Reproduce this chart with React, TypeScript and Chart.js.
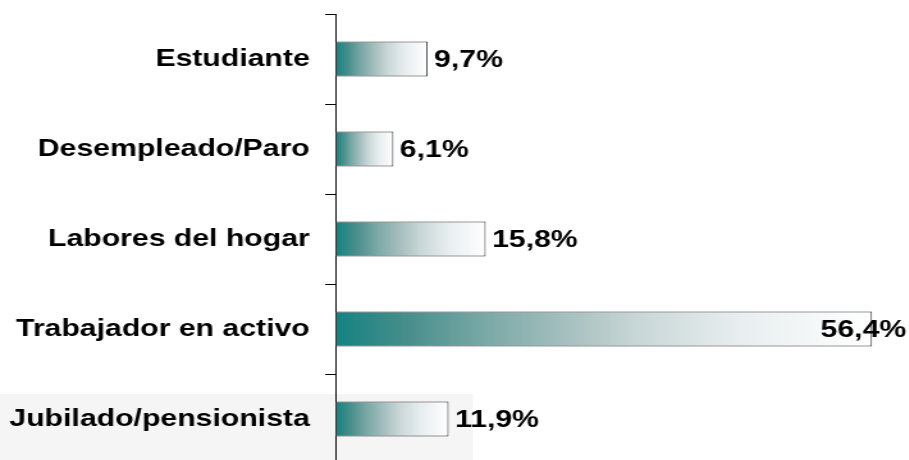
import React, { useEffect, useRef } from "react";
import { Chart, registerables } from "chart.js";

Chart.register(...registerables);

const categories = [
  "Estudiante",
  "Desempleado/Paro",
  "Labores del hogar",
  "Trabajador en activo",
  "Jubilado/pensionista",
];
const values = [9.7, 6.1, 15.8, 56.4, 11.9];
const valueLabels = ["9,7%", "6,1%", "15,8%", "56,4%", "11,9%"];

const STRETCH = 1.28;
const LOGICAL_W = 710;
const LOGICAL_H = 470;
const FONT_SIZE = 23.6;
const FONT = `bold ${FONT_SIZE}px 'Liberation Sans', Arial, sans-serif`;

const gradientStops: [number, string][] = [
  [0, "#138381"],
  [0.14, "#4a8f8c"],
  [0.28, "#7aa9a7"],
  [0.42, "#a3bebd"],
  [0.56, "#c8d6d6"],
  [0.75, "#e8eef0"],
  [1, "#ffffff"],
];

const valueLabelPlugin = {
  id: "valueLabels",
  afterDatasetsDraw(chart: any) {
    const ctx = chart.ctx;
    const meta = chart.getDatasetMeta(0);
    const area = chart.chartArea;
    ctx.save();
    ctx.font = FONT;
    ctx.fillStyle = "#000";
    ctx.textBaseline = "middle";
    ctx.textAlign = "left";
    meta.data.forEach((el: any, i: number) => {
      const text = valueLabels[i];
      const w = ctx.measureText(text).width;
      let x = el.x + 5;
      if (x + w > area.right) x = area.right - w;
      ctx.fillText(text, x, el.y + 1);
    });
    ctx.restore();
  },
};

export default function App() {
  const ref = useRef<HTMLCanvasElement | null>(null);

  useEffect(() => {
    if (!ref.current) return;
    const chart = new Chart(ref.current, {
      type: "bar",
      data: {
        labels: categories,
        datasets: [
          {
            data: values,
            backgroundColor: (c: any) => {
              const ch = c.chart;
              const xs = ch.scales && ch.scales.x;
              if (!xs || c.dataIndex === undefined) return "#7aa9a7";
              const x0 = xs.getPixelForValue(0);
              const x1 = xs.getPixelForValue(values[c.dataIndex]);
              if (!isFinite(x0) || !isFinite(x1) || x0 === x1) return "#7aa9a7";
              const g = ch.ctx.createLinearGradient(x0, 0, x1, 0);
              gradientStops.forEach(([p, col]) => g.addColorStop(p, col));
              return g;
            },
            borderColor: "#333",
            borderWidth: 1,
            borderSkipped: false,
            barPercentage: 0.39,
            categoryPercentage: 1,
          },
        ],
      },
      options: {
        indexAxis: "y",
        responsive: false,
        animation: false,
        devicePixelRatio: 1,
        layout: { padding: { top: 14, bottom: 6, right: 2, left: 0 } },
        plugins: {
          legend: { display: false },
          tooltip: { enabled: false },
        },
        scales: {
          x: {
            display: false,
            min: 0,
            max: 60,
          },
          y: {
            offset: true,
            afterFit: (s: any) => {
              s.width = 262;
              s.paddingTop = 0;
              s.paddingBottom = 0;
            },
            grid: {
              display: true,
              drawOnChartArea: false,
              drawTicks: true,
              tickLength: 8,
              color: "#000",
              offset: true,
            },
            border: { display: true, color: "#000", width: 1 },
            ticks: {
              color: "#000",
              padding: 12,
              font: {
                family: "'Liberation Sans', Arial, sans-serif",
                size: FONT_SIZE,
                weight: "bold",
              },
            },
          },
        },
      },
      plugins: [valueLabelPlugin],
    });
    return () => chart.destroy();
  }, []);

  return (
    <>
      <div
        style={{
          position: "fixed",
          left: 0,
          top: 394,
          width: 473,
          height: 80,
          background: "#f5f5f5",
        }}
      />
      <div
        style={{
          position: "fixed",
          left: 0,
          top: 0,
          width: LOGICAL_W,
          height: LOGICAL_H,
          transform: `scaleX(${STRETCH})`,
          transformOrigin: "0 0",
        }}
      >
        <canvas ref={ref} width={LOGICAL_W} height={LOGICAL_H} />
      </div>
    </>
  );
}
